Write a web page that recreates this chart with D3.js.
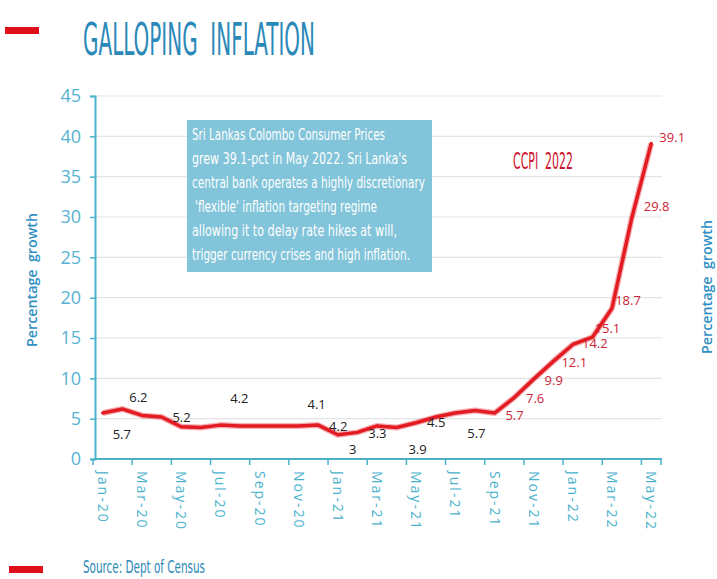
<!DOCTYPE html>
<html>
<head>
<meta charset="utf-8">
<script src="https://cdn.jsdelivr.net/npm/d3@7"></script>
<style>
  body { margin: 0; background: #ffffff; }
  svg { display: block; }
  text { white-space: pre; }
</style>
</head>
<body>
<div class="chart"></div>
<script>
// CCPI year-on-year, Jan 2020 .. May 2022
var months = ["Jan-20", "Feb-20", "Mar-20", "Apr-20", "May-20", "Jun-20", "Jul-20", "Aug-20", "Sep-20", "Oct-20", "Nov-20", "Dec-20",
              "Jan-21", "Feb-21", "Mar-21", "Apr-21", "May-21", "Jun-21", "Jul-21", "Aug-21", "Sep-21", "Oct-21", "Nov-21", "Dec-21",
              "Jan-22", "Feb-22", "Mar-22", "Apr-22", "May-22"];
var ccpi = [5.7, 6.2, 5.4, 5.2, 4.0, 3.9, 4.2, 4.1, 4.1, 4.1, 4.1, 4.2,
            3.0, 3.3, 4.1, 3.9, 4.5, 5.2, 5.7, 6.0, 5.7, 7.6, 9.9, 12.1,
            14.2, 15.1, 18.7, 29.8, 39.1];
var tickLabels = ["Jan-20", "Mar-20", "May-20", "Jul-20", "Sep-20", "Nov-20", "Jan-21", "Mar-21", "May-21", "Jul-21", "Sep-21", "Nov-21", "Jan-22", "Mar-22", "May-22"];
var yTicks = [0, 5, 10, 15, 20, 25, 30, 35, 40, 45];

// value labels as printed on the chart
var labelMonths = ["Jan-20", "Feb-20", "Apr-20", "Jul-20", "Nov-20", "Dec-20", "Jan-21", "Feb-21", "Apr-21", "May-21", "Jul-21",
                   "Sep-21", "Oct-21", "Nov-21", "Dec-21", "Jan-22", "Feb-22", "Mar-22", "Apr-22", "May-22"];
var labelTexts = ["5.7", "6.2", "5.2", "4.2", "4.1", "4.2", "3", "3.3", "3.9", "4.5", "5.7",
                  "5.7", "7.6", "9.9", "12.1", "14.2", "15.1", "18.7", "29.8", "39.1"];

var noteLines = ["Sri Lankas Colombo Consumer Prices",
                 "grew 39.1-pct in May 2022. Sri Lanka's",
                 "central bank operates a highly discretionary",
                 " 'flexible' inflation targeting regime",
                 "allowing it to delay rate hikes at will,",
                 "trigger currency crises and high inflation."];

// layout only
var labelNudge = [[19, 21], [16, -12], [20, 0], [19, -27], [18, -21], [20, 1], [15, 15], [20, 1], [21, 22], [20, 0], [21, 20],
                  [20, 2], [21, 1], [20, 1], [21, 1], [22, -1], [15, -9], [16, -8], [25, -12], [21, -6]];
var noteWidths = [193, 215, 233, 182, 205, 218];

var W = 717, H = 579;
var blue = "#2a89b8", teal = "#4ab2cc", red = "#e31b23", darkRed = "#cc2434";

var svg = d3.select(".chart").append("svg")
    .attr("width", W)
    .attr("height", H);

var x = d3.scaleBand().domain(months).range([93, 661]);
var y = d3.scaleLinear().domain([0, 45]).range([459, 96]);
var cx = function(m) { return x(m) + x.bandwidth() / 2; };

// red bars
svg.append("rect").attr("x", 5).attr("y", 27).attr("width", 34).attr("height", 7).attr("fill", "#e0101a");
svg.append("rect").attr("x", 9).attr("y", 566).attr("width", 34).attr("height", 7).attr("fill", "#e0101a");

// title
svg.append("text")
    .attr("x", 83).attr("y", 55)
    .attr("textLength", 232).attr("lengthAdjust", "spacingAndGlyphs")
    .style("font-family", "'DejaVu Sans Condensed', 'DejaVu Sans'")
    .style("font-stretch", "condensed")
    .style("font-size", "45px")
    .style("fill", blue)
    .text("GALLOPING  INFLATION");

// gridlines
svg.append("g")
    .selectAll("line")
    .data(yTicks.slice(1))
    .enter()
    .append("line")
    .attr("x1", 95).attr("x2", 662)
    .attr("y1", function(d) { return y(d); })
    .attr("y2", function(d) { return y(d); })
    .attr("stroke", "#e2e4e6")
    .attr("stroke-width", 1.2);

// y axis
var yAxis = svg.append("g")
    .attr("transform", "translate(95,0)")
    .call(d3.axisLeft(y).tickValues(yTicks).tickSize(5).tickPadding(9));
yAxis.select(".domain").attr("stroke", teal).attr("stroke-width", 2);
yAxis.selectAll(".tick line").attr("stroke", teal).attr("stroke-width", 1.5);
yAxis.selectAll(".tick text")
    .style("font-family", "'Open Sans'")
    .style("font-size", "18px")
    .style("fill", "#56b3d2");

// x axis (ticks on band edges every two months)
svg.append("line")
    .attr("x1", 94).attr("x2", 662)
    .attr("y1", y(0)).attr("y2", y(0))
    .attr("stroke", teal).attr("stroke-width", 2);
svg.append("g")
    .selectAll("line")
    .data(tickLabels.concat(["end"]))
    .enter()
    .append("line")
    .attr("x1", function(d) { return d === "end" ? x.range()[1] : x(d); })
    .attr("x2", function(d) { return d === "end" ? x.range()[1] : x(d); })
    .attr("y1", y(0)).attr("y2", y(0) + 6)
    .attr("stroke", teal).attr("stroke-width", 1.5);
svg.append("g")
    .selectAll("text")
    .data(tickLabels)
    .enter()
    .append("text")
    .attr("transform", function(d) { return "translate(" + cx(d) + "," + (y(0) + 12) + ") rotate(90)"; })
    .attr("dy", "0.35em")
    .style("font-family", "'Open Sans'")
    .style("font-size", "14px")
    .style("letter-spacing", "2px")
    .style("fill", teal)
    .text(function(d) { return d; });

// axis titles
[[32, 280, -90], [707, 287, -90]].forEach(function(p) {
    svg.append("text")
        .attr("transform", "translate(" + p[0] + "," + p[1] + ") rotate(" + p[2] + ")")
        .attr("text-anchor", "middle")
        .attr("dy", "0.35em")
        .attr("textLength", 134).attr("lengthAdjust", "spacingAndGlyphs")
        .style("font-family", "'Open Sans'")
        .style("font-weight", 600)
        .style("font-size", "14px")
        .style("fill", "#2f90c4")
        .text("Percentage  growth");
});

// note box
svg.append("rect")
    .attr("x", 187).attr("y", 120)
    .attr("width", 245).attr("height", 152)
    .attr("fill", "#82c4d9");
svg.append("g")
    .selectAll("text")
    .data(noteLines)
    .enter()
    .append("text")
    .attr("x", function(d, i) { return i === 3 ? 195 : 192; })
    .attr("y", function(d, i) { return 140 + i * 24; })
    .attr("textLength", function(d, i) { return noteWidths[i]; })
    .attr("lengthAdjust", "spacingAndGlyphs")
    .style("font-family", "'DejaVu Sans Condensed', 'DejaVu Sans'")
    .style("font-stretch", "condensed")
    .style("font-size", "15px")
    .style("fill", "#ffffff")
    .text(function(d) { return d.trim(); });

// CCPI label
svg.append("text")
    .attr("x", 513).attr("y", 169)
    .attr("textLength", 60).attr("lengthAdjust", "spacingAndGlyphs")
    .style("font-family", "'DejaVu Sans Condensed', 'DejaVu Sans'")
    .style("font-size", "23px")
    .style("fill", "#d0142c")
    .text("CCPI  2022");

// line
var line = d3.line()
    .x(function(d, i) { return cx(months[i]); })
    .y(function(d) { return y(d); })
    .curve(d3.curveLinear);
svg.append("path")
    .datum(ccpi)
    .attr("d", line)
    .attr("fill", "none")
    .attr("stroke", red)
    .attr("stroke-opacity", 0.35)
    .attr("stroke-width", 6)
    .attr("stroke-linejoin", "round");
svg.append("path")
    .datum(ccpi)
    .attr("d", line)
    .attr("fill", "none")
    .attr("stroke", red)
    .attr("stroke-width", 3.5)
    .attr("stroke-linejoin", "round")
    .attr("stroke-linecap", "round");

// value labels
svg.append("g")
    .selectAll("text")
    .data(labelTexts)
    .enter()
    .append("text")
    .attr("x", function(d, i) { return cx(labelMonths[i]) + labelNudge[i][0]; })
    .attr("y", function(d, i) { return y(+d) + labelNudge[i][1]; })
    .attr("text-anchor", "middle")
    .attr("dy", "0.35em")
    .style("font-family", "'Open Sans'")
    .style("font-size", "13px")
    .style("fill", function(d, i) { return i >= 11 ? darkRed : "#222222"; })
    .text(function(d) { return d; });

// source
svg.append("text")
    .attr("x", 83).attr("y", 573)
    .attr("textLength", 122).attr("lengthAdjust", "spacingAndGlyphs")
    .style("font-family", "'DejaVu Sans Condensed', 'DejaVu Sans'")
    .style("font-size", "17px")
    .style("fill", blue)
    .text("Source: Dept of Census");
</script>
</body>
</html>
